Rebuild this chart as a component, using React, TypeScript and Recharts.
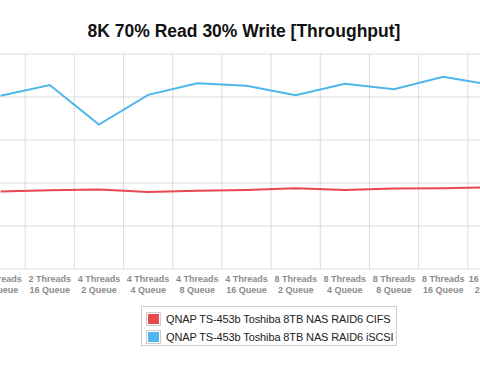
import { LineChart, Line, XAxis, YAxis, CartesianGrid } from "recharts";

const threadLabels = ["2 Threads", "2 Threads", "4 Threads", "4 Threads", "4 Threads", "4 Threads", "8 Threads", "8 Threads", "8 Threads", "8 Threads", "16 Threads"];
const queueLabels = ["8 Queue", "16 Queue", "2 Queue", "4 Queue", "8 Queue", "16 Queue", "2 Queue", "4 Queue", "8 Queue", "16 Queue", "2 Queue"];
const cifsValues = [18.0, 18.3, 18.5, 17.9, 18.2, 18.4, 18.8, 18.4, 18.7, 18.8, 19.0];
const iscsiValues = [40.3, 42.8, 33.6, 40.5, 43.2, 42.6, 40.4, 43.1, 41.8, 44.7, 42.8];
const yTicks = [10, 20, 30, 40, 50];

const seriesNames = ["QNAP TS-453b Toshiba 8TB NAS RAID6 CIFS", "QNAP TS-453b Toshiba 8TB NAS RAID6 iSCSI"];
const seriesColors = ["#e8484f", "#4db7eb"];

const data = threadLabels.map((t, i) => ({
  name: `${t} ${queueLabels[i]}`,
  cifs: cifsValues[i],
  iscsi: iscsiValues[i],
}));

const CHART_W = 541;
const CHART_H = 373;
const BAND = CHART_W / data.length;

const CategoryTick = ({ x, y, index }: any) => (
  <text x={x} y={y} textAnchor="middle" fill="#8c8c8c" fontSize={9} fontWeight="bold" fontFamily="'Liberation Sans', Arial, sans-serif">
    <tspan x={x} dy={13}>{threadLabels[index]}</tspan>
    <tspan x={x} dy={11}>{queueLabels[index]}</tspan>
  </text>
);

const gridX = ({ offset }: any) => {
  const out: number[] = [];
  for (let i = 0; i <= data.length; i++) out.push(offset.left + i * (offset.width / data.length));
  return out;
};

export default function App() {
  return (
    <div style={{ position: "fixed", left: 0, top: 0, width: 480, height: 373, overflow: "hidden", background: "#fff" }}>
      <div
        style={{
          position: "absolute",
          left: 0,
          top: 22,
          width: 488,
          textAlign: "center",
          fontFamily: "'Liberation Sans', Arial, sans-serif",
          fontWeight: "bold",
          fontSize: 17.5,
          lineHeight: "18px",
          color: "#111",
        }}
      >
        8K 70% Read 30% Write [Throughput]
      </div>
      <div style={{ position: "absolute", left: -24.5, top: 0 }}>
        <LineChart width={CHART_W} height={CHART_H} data={data} margin={{ top: 54, right: 0, bottom: 0, left: 0 }}>
          <CartesianGrid stroke="#dcdcdc" strokeWidth={1} verticalCoordinatesGenerator={gridX} />
          <XAxis
            dataKey="name"
            height={104}
            padding={{ left: BAND / 2, right: BAND / 2 }}
            axisLine={false}
            tickLine={false}
            tickSize={0}
            tickMargin={0}
            interval={0}
            tick={<CategoryTick />}
          />
          <YAxis hide domain={[0, 50]} ticks={yTicks} />
          <Line type="linear" dataKey="cifs" stroke={seriesColors[0]} strokeWidth={2} dot={false} isAnimationActive={false} />
          <Line type="linear" dataKey="iscsi" stroke={seriesColors[1]} strokeWidth={2} dot={false} isAnimationActive={false} />
        </LineChart>
      </div>
      <div
        style={{
          position: "absolute",
          left: 141,
          top: 306,
          width: 256,
          height: 40,
          boxSizing: "border-box",
          border: "1px solid #cccccc",
          padding: "3px 0 0 4px",
          fontFamily: "'Liberation Sans', Arial, sans-serif",
          fontSize: 11,
          letterSpacing: -0.12,
          color: "#222",
          whiteSpace: "nowrap",
          overflow: "hidden",
        }}
      >
        {seriesNames.map((n, i) => (
          <div key={n} style={{ display: "flex", alignItems: "center", height: 17, marginBottom: 1 }}>
            <span
              style={{
                display: "inline-block",
                flexShrink: 0,
                width: 11,
                height: 10,
                border: "1px solid #cccccc",
                padding: 1,
                background: seriesColors[i],
                backgroundClip: "content-box",
                marginRight: 5,
              }}
            />
            <span>{n}</span>
          </div>
        ))}
      </div>
    </div>
  );
}
